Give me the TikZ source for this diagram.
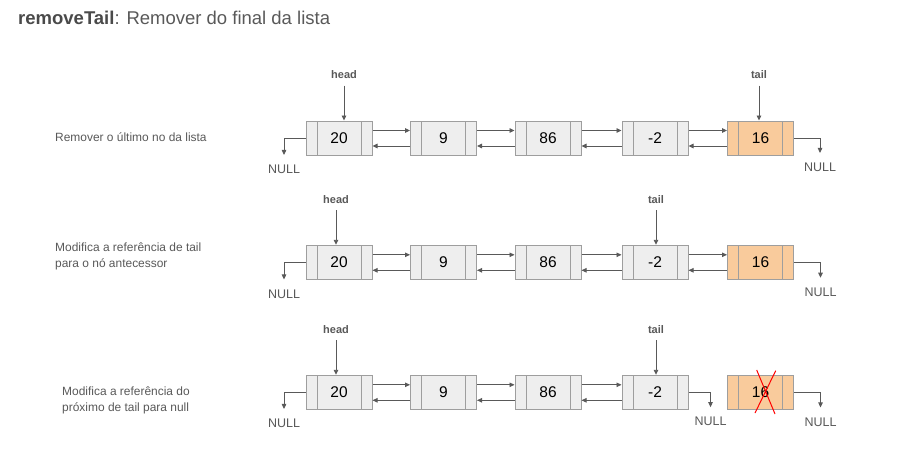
\documentclass[tikz,border=0pt]{standalone}
\usepackage{fontspec}
\setmainfont{Liberation Sans}
\usetikzlibrary{arrows.meta,calc}
\definecolor{lineC}{HTML}{595959}
\definecolor{titleC}{HTML}{4A4A4A}
\definecolor{boxC}{HTML}{9E9E9E}
\definecolor{fillG}{HTML}{EEEEEE}
\definecolor{fillO}{HTML}{F9CB9C}
\definecolor{crossC}{HTML}{FF0000}
\tikzset{
  cell/.style={draw=boxC, line width=1pt, minimum width=66pt, minimum height=34pt, inner sep=0pt,
    font=\fontsize{15.5}{18}\selectfont, text=black,
    path picture={\draw[boxC, line width=1pt]
      ([xshift=11pt]path picture bounding box.north west) -- ([xshift=11pt]path picture bounding box.south west)
      ([xshift=-11pt]path picture bounding box.north east) -- ([xshift=-11pt]path picture bounding box.south east);}},
  gcell/.style={cell, fill=fillG},
  ocell/.style={cell, fill=fillO},
  link/.style={draw=lineC, line width=0.9pt, -{Triangle[length=5pt,width=4.5pt]}},
  ptr/.style={font=\bfseries\fontsize{11}{13}\selectfont, text=lineC, inner sep=0pt},
  nulltxt/.style={font=\fontsize{12.5}{14}\selectfont, text=lineC, inner sep=0pt},
  note/.style={font=\fontsize{11.95}{16}\selectfont, text=lineC, align=left, anchor=west, inner sep=0pt},
}
\begin{document}
\begin{tikzpicture}[x=1pt,y=-1pt]
\useasboundingbox[fill=white] (0,0) rectangle (920,453);

\node[anchor=base west, inner sep=0pt, font=\fontsize{18.5}{22}\selectfont, text=lineC] (title) at (18,24)
  {\textcolor{titleC}{\textbf{removeTail}}: Remover do final da lista};

% side notes
\node[note] (note1) at (55,137) {Remover o último no da lista};
\node[note] (note2) at (55,256) {Modifica a referência de tail\\para o nó antecessor};
\node[note] (note3) at (62,400.5) {Modifica a referência do\\próximo de tail para null};

% cells
\foreach \r/\y in {1/138,2/262.3,3/392.3} {
  \foreach \i/\x/\t in {1/339/20,2/443.5/9,3/548/86,4/655/-2}
    \node[gcell] (r\r n\i) at (\x,\y) {\t};
  \node[ocell] (r\r n5) at (760.5,\y) {16};
}

% links
\foreach \r in {1,2} {
  \foreach \a/\b in {1/2,2/3,3/4,4/5} {
    \draw[link] ([yshift=7.5pt]r\r n\a.east) -- ([yshift=7.5pt]r\r n\b.west);
    \draw[link] ([yshift=-8pt]r\r n\b.west) -- ([yshift=-8pt]r\r n\a.east);
  }
}
\foreach \a/\b in {1/2,2/3,3/4} {
  \draw[link] ([yshift=7.5pt]r3n\a.east) -- ([yshift=7.5pt]r3n\b.west);
  \draw[link] ([yshift=-8pt]r3n\b.west) -- ([yshift=-8pt]r3n\a.east);
}

% pointers
\node[ptr] (h1) at (344,75) {head};
\node[ptr] (t1) at (759,75) {tail};
\node[ptr] (h2) at (336,200) {head};
\node[ptr] (t2) at (656,200) {tail};
\node[ptr] (h3) at (336,330) {head};
\node[ptr] (t3) at (656,330) {tail};
\draw[link] ([yshift=-6.5pt]h1.south) -- (h1.south |- r1n1.north);
\draw[link] ([yshift=-6.5pt]t1.south) -- (t1.south |- r1n5.north);
\draw[link] ([yshift=-6pt]h2.south) -- (h2.south |- r2n1.north);
\draw[link] ([yshift=-6pt]t2.south) -- (t2.south |- r2n4.north);
\draw[link] ([yshift=-6pt]h3.south) -- (h3.south |- r3n1.north);
\draw[link] ([yshift=-6pt]t3.south) -- (t3.south |- r3n4.north);

% NULLs
\node[nulltxt] (nl1) at (284,169.5) {NULL};
\node[nulltxt] (nr1) at (820,167.5) {NULL};
\node[nulltxt] (nl2) at (284,294) {NULL};
\node[nulltxt] (nr2) at (820.5,292.3) {NULL};
\node[nulltxt] (nl3) at (284,423.5) {NULL};
\node[nulltxt] (nm3) at (710.5,421.7) {NULL};
\node[nulltxt] (nr3) at (820.5,422) {NULL};
\draw[link] (r1n1.west) -| ([yshift=10pt]nl1.north);
\draw[link] (r1n5.east) -| ([yshift=10pt]nr1.north);
\draw[link] (r2n1.west) -| ([yshift=10pt]nl2.north);
\draw[link] (r2n5.east) -| ([yshift=10pt]nr2.north);
\draw[link] (r3n1.west) -| ([yshift=10pt]nl3.north);
\draw[link] (r3n4.east) -| ([yshift=10pt]nm3.north);
\draw[link] (r3n5.east) -| ([yshift=10pt]nr3.north);

% cross on removed node
\draw[crossC, line width=1pt] (756.7,370) -- (775,414) (775.7,370.7) -- (755,413);
\end{tikzpicture}
\end{document}
